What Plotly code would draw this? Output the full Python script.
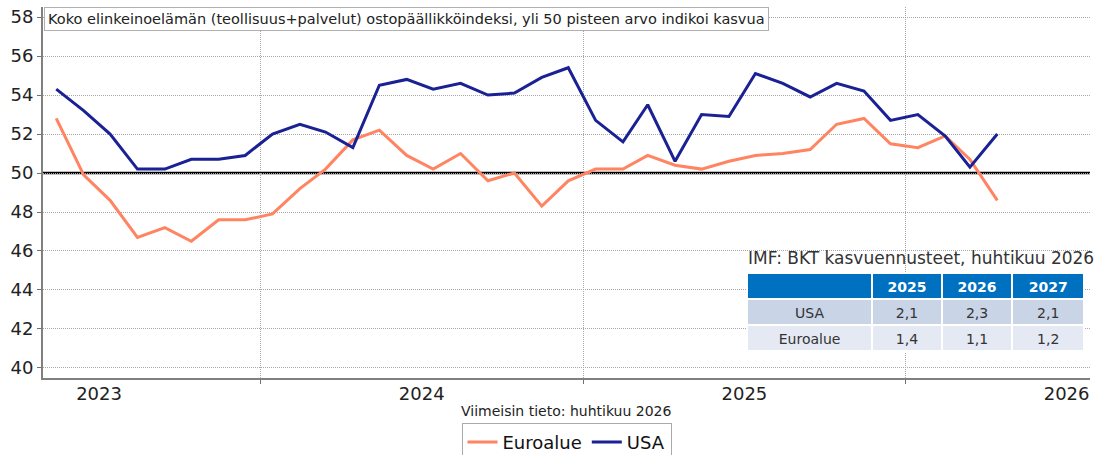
import plotly.graph_objects as go
import pandas as pd

months = pd.date_range("2023-05-01", periods=36, freq="MS") + pd.Timedelta(days=14)
months = [d.strftime("%Y-%m-%d") for d in months]

euroalue = [52.8, 49.9, 48.6, 46.7, 47.2, 46.5, 47.6, 47.6, 47.9, 49.2, 50.2, 51.7,
            52.2, 50.9, 50.2, 51.0, 49.6, 50.0, 48.3, 49.6, 50.2, 50.2, 50.9, 50.4,
            50.2, 50.6, 50.9, 51.0, 51.2, 52.5, 52.8, 51.5, 51.3, 51.9, 50.7, 48.6]
usa = [54.3, 53.2, 52.0, 50.2, 50.2, 50.7, 50.7, 50.9, 52.0, 52.5, 52.1, 51.3,
       54.5, 54.8, 54.3, 54.6, 54.0, 54.1, 54.9, 55.4, 52.7, 51.6, 53.5, 50.6,
       53.0, 52.9, 55.1, 54.6, 53.9, 54.6, 54.2, 52.7, 53.0, 51.9, 50.3, 52.0]

table_header = ["", "2025", "2026", "2027"]
table_regions = ["USA", "Euroalue"]
table_2025 = ["2,1", "1,4"]
table_2026 = ["2,3", "1,1"]
table_2027 = ["2,1", "1,2"]

FONT = "DejaVu Sans"
ORANGE = "#FF8461"
BLUE = "#1A2194"
GRID = "#a8a8a8"

fig = go.Figure()
fig.add_trace(go.Scatter(x=months, y=euroalue, name="Euroalue", mode="lines",
                         line=dict(color=ORANGE, width=3)))
fig.add_trace(go.Scatter(x=months, y=usa, name="USA", mode="lines",
                         line=dict(color=BLUE, width=3)))

fig.add_trace(go.Table(
    domain=dict(x=[0.6724, 0.9943], y=[0.0566, 0.283]),
    columnwidth=[124, 69, 70, 71],
    header=dict(values=table_header, fill_color="#0070C0",
                font=dict(color="white", size=14, family=FONT, weight="bold"),
                align="center", height=26, line=dict(color="white", width=2)),
    cells=dict(values=[table_regions, table_2025, table_2026, table_2027],
               fill_color=[["#C9D4E7", "#E4E9F4"]] * 4,
               font=dict(color="#333333", size=14, family=FONT),
               align="center", height=26, line=dict(color="white", width=2)),
))

fig.add_shape(type="line", xref="paper", yref="y", x0=0, x1=1, y0=50, y1=50,
              line=dict(color="black", width=2.5), layer="between")

fig.add_annotation(xref="paper", yref="paper", x=0, y=1, xanchor="left", yanchor="top",
                   text="Koko elinkeinoelämän (teollisuus+palvelut) ostopäällikköindeksi, yli 50 pisteen arvo indikoi kasvua",
                   showarrow=False, font=dict(size=14.5, color="#222", family=FONT),
                   bgcolor="white", bordercolor="#b0b0b0", borderwidth=1, borderpad=3,
                   xshift=1)
fig.add_annotation(xref="paper", yref="paper", x=0.6714, y=0.323, xanchor="left", yanchor="middle",
                   text="IMF: BKT kasvuennusteet, huhtikuu 2026", showarrow=False,
                   font=dict(size=17, color="#333333", family=FONT))
fig.add_annotation(xref="paper", yref="paper", x=0.5, y=-0.089, xanchor="center", yanchor="middle",
                   text="Viimeisin tieto: huhtikuu 2026", showarrow=False,
                   font=dict(size=14, color="#222", family=FONT))

fig.update_layout(
    width=1094, height=455,
    margin=dict(l=43, r=4, t=7, b=77, autoexpand=False),
    paper_bgcolor="white", plot_bgcolor="white",
    font=dict(family=FONT, color="#222"),
    showlegend=True,
    legend=dict(orientation="h", x=0.5, xanchor="center", y=-0.121, yanchor="top",
                font=dict(size=18, color="#111"), bordercolor="#aaaaaa", borderwidth=1,
                itemwidth=30, tracegroupgap=0),
    xaxis=dict(type="date", range=["2023-04-30", "2026-07-29"], automargin=False,
               dtick="M12", tick0="2023-01-01", ticklabelmode="period",
               tickformat="%Y", showgrid=True, gridcolor=GRID, griddash="1px,1px", gridwidth=1,
               ticks="outside", ticklen=4, tickcolor="#707070",
               showline=True, linecolor="#808080", linewidth=2,
               tickfont=dict(size=18, color="#222"), ticklabelstandoff=-6,
               zeroline=False),
    yaxis=dict(range=[39.486, 58.514], tick0=40, dtick=2, showgrid=True, gridcolor=GRID,
               automargin=False,
               griddash="1px,1px", gridwidth=1, ticks="outside", ticklen=4, tickcolor="#707070",
               showline=True, linecolor="#808080", linewidth=2,
               tickfont=dict(size=18, color="#222"), zeroline=False),
)

fig.write_html("out.html", config={"displayModeBar": False},
               post_script="document.body.style.margin='0';")
